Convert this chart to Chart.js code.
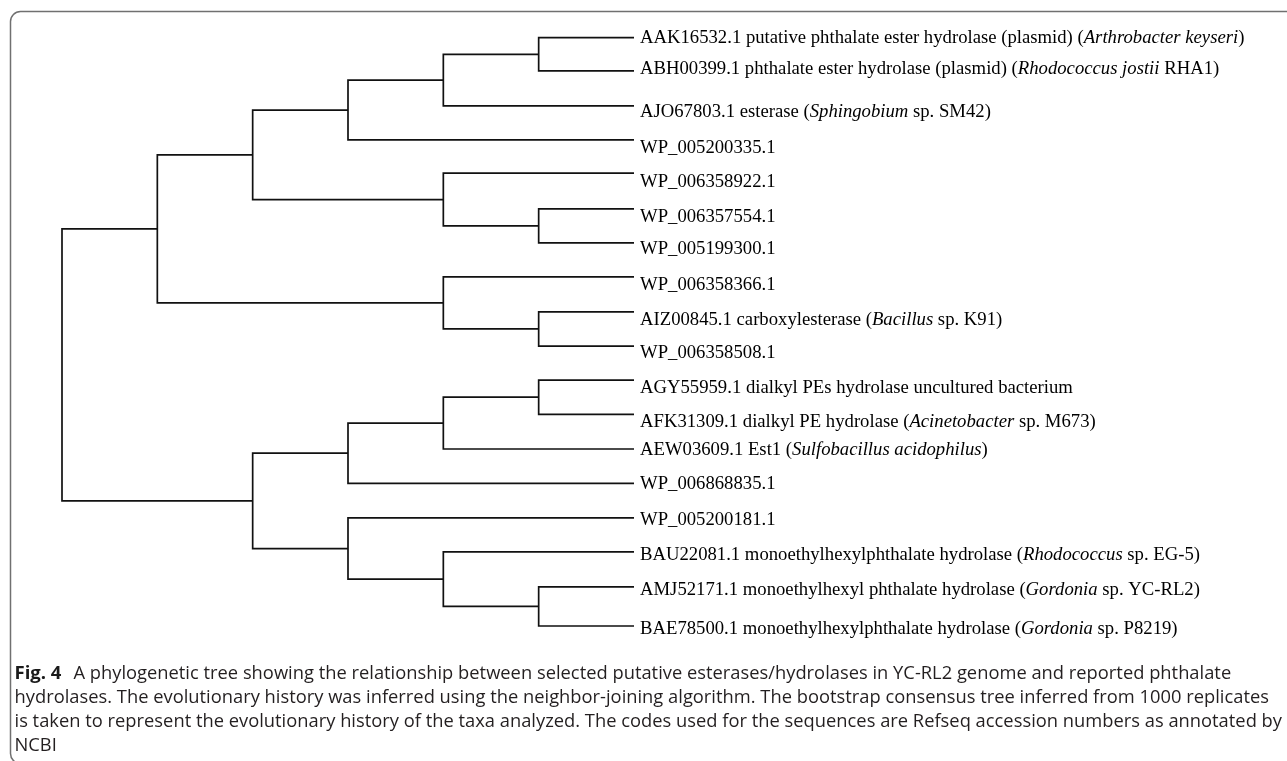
<!DOCTYPE html>
<html>
<head>
<meta charset="utf-8">
<script src="https://cdn.jsdelivr.net/npm/chart.js@4/dist/chart.umd.min.js"></script>
<style>
  html, body { margin: 0; padding: 0; background: #ffffff; }
  #wrap { width: 1287px; height: 761px; position: relative; }
</style>
</head>
<body>
<div id="wrap"><canvas id="tree" width="1287" height="761"></canvas></div>
<script>
// Taxa, top to bottom. Text between asterisks is set in italics.
const taxa = [
  "AAK16532.1 putative phthalate ester hydrolase (plasmid) (*Arthrobacter keyseri*)",
  "ABH00399.1 phthalate ester hydrolase (plasmid) (*Rhodococcus jostii* RHA1)",
  "AJO67803.1 esterase (*Sphingobium* sp. SM42)",
  "WP_005200335.1",
  "WP_006358922.1",
  "WP_006357554.1",
  "WP_005199300.1",
  "WP_006358366.1",
  "AIZ00845.1 carboxylesterase (*Bacillus* sp. K91)",
  "WP_006358508.1",
  "AGY55959.1 dialkyl PEs hydrolase uncultured bacterium",
  "AFK31309.1 dialkyl PE hydrolase (*Acinetobacter* sp. M673)",
  "AEW03609.1 Est1 (*Sulfobacillus acidophilus*)",
  "WP_006868835.1",
  "WP_005200181.1",
  "BAU22081.1 monoethylhexylphthalate hydrolase (*Rhodococcus* sp. EG-5)",
  "AMJ52171.1 monoethylhexyl phthalate hydrolase (*Gordonia* sp. YC-RL2)",
  "BAE78500.1 monoethylhexylphthalate hydrolase (*Gordonia* sp. P8219)"
];

// Row of each leaf on the vertical axis
const leafRow = [0, 0.97, 1.99, 2.98, 3.95, 4.99, 5.98, 6.97, 7.99, 8.99,
                 9.98, 10.98, 11.99, 12.99, 14, 14.99, 16.01, 17.15];

// Bootstrap consensus topology (indices into taxa), as nested pairs
const cladeTree = [
  [[[[[0, 1], 2], 3], [4, [5, 6]]], [7, [8, 9]]],
  [[[[10, 11], 12], 13], [14, [15, [16, 17]]]]
];

const captionLead = "Fig. 4";
const captionLines = [
  "A phylogenetic tree showing the relationship between selected putative esterases/hydrolases in YC-RL2 genome and reported phthalate",
  "hydrolases. The evolutionary history was inferred using the neighbor-joining algorithm. The bootstrap consensus tree inferred from 1000 replicates",
  "is taken to represent the evolutionary history of the taxa analyzed. The codes used for the sequences are Refseq accession numbers as annotated by",
  "NCBI"
];

// Small vertical nudges of the taxon labels relative to their branch (px)
const labelNudge = [0, -2, 6, 8, 9, 8, 6, 8, 8, 7, 8, 8, 1, 1, 2, 3, 3, 3];

// ---- build bracket polylines (cladogram: leaves aligned, node depth = height) ----
const brackets = [];
function walk(node) {
  if (typeof node === "number") return { h: 0, row: leafRow[node] };
  const a = walk(node[0]);
  const b = walk(node[1]);
  const h = Math.max(a.h, b.h) + 1;
  const info = { h, row: (a.row + b.row) / 2, a, b };
  brackets.push(info);
  return info;
}
const root = walk(cladeTree);
const H = root.h;

const datasets = brackets.map(n => ({
  data: [
    { x: H - n.a.h, y: n.a.row },
    { x: H - n.h,   y: n.a.row },
    { x: H - n.h,   y: n.b.row },
    { x: H - n.b.h, y: n.b.row }
  ],
  showLine: true,
  borderColor: "#111111",
  borderWidth: 1.7,
  borderJoinStyle: "miter",
  borderCapStyle: "butt",
  pointRadius: 0,
  pointHoverRadius: 0,
  fill: false,
  tension: 0,
  clip: false
}));

function drawRich(ctx, text, x, y, size) {
  const parts = text.split("*");
  let cx = x;
  parts.forEach((p, i) => {
    if (!p) return;
    ctx.font = (i % 2 ? "italic " : "") + size + 'px "Liberation Serif", "Times New Roman", serif';
    ctx.fillText(p, cx, y);
    cx += ctx.measureText(p).width;
  });
}

const decorations = {
  id: "treeDecorations",
  afterDraw(chart) {
    const ctx = chart.ctx;
    const xs = chart.scales.x, ys = chart.scales.y;

    // taxon labels
    ctx.save();
    ctx.fillStyle = "#000000";
    ctx.textBaseline = "middle";
    ctx.textAlign = "left";
    const lx = xs.getPixelForValue(H) + 6;
    taxa.forEach((t, i) => {
      drawRich(ctx, t, lx, ys.getPixelForValue(leafRow[i]) + labelNudge[i], 18.7);
    });
    ctx.restore();

    // figure frame
    ctx.save();
    ctx.strokeStyle = "#707070";
    ctx.lineWidth = 1.5;
    const fx = 10.5, fy = 11.5, fw = 1320, fh = 752, r = 10;
    ctx.beginPath();
    ctx.moveTo(fx + fw, fy);
    ctx.lineTo(fx + r, fy);
    ctx.arcTo(fx, fy, fx, fy + r, r);
    ctx.lineTo(fx, fy + fh - r);
    ctx.arcTo(fx, fy + fh, fx + r, fy + fh, r);
    ctx.lineTo(fx + fw, fy + fh);
    ctx.stroke();
    ctx.restore();

    // caption
    ctx.save();
    ctx.textBaseline = "middle";
    const size = 17.5;
    const reg = size + 'px "Open Sans", "Noto Sans", sans-serif';
    const bold = "bold 18.5px \"Open Sans\", \"Noto Sans\", sans-serif";
    ctx.font = reg;
    const left = 14.5;
    const squeeze = (1282 - left) / ctx.measureText(captionLines[2]).width;
    captionLines.forEach((ln, i) => {
      const y = 674 + i * 24;
      let x0 = left;
      if (i === 0) {
        ctx.font = bold;
        ctx.fillStyle = "#1a1a1a";
        ctx.fillText(captionLead, left, y);
        x0 = left + ctx.measureText(captionLead).width + 12;
      }
      ctx.save();
      ctx.translate(x0, y);
      ctx.scale(squeeze, 1);
      ctx.font = reg;
      ctx.fillStyle = "#231f20";
      ctx.fillText(ln, 0, 0);
      ctx.restore();
    });
    ctx.restore();
  }
};

new Chart(document.getElementById("tree"), {
  type: "scatter",
  data: { datasets },
  options: {
    responsive: false,
    animation: false,
    events: [],
    layout: { padding: { left: 62, right: 1287 - 634, top: 37.7, bottom: 135 } },
    scales: {
      x: { type: "linear", min: 0, max: H, display: false },
      y: { type: "linear", min: 0, max: 17.15, reverse: true, display: false }
    },
    plugins: { legend: { display: false }, tooltip: { enabled: false } }
  },
  plugins: [decorations]
});
</script>
</body>
</html>
